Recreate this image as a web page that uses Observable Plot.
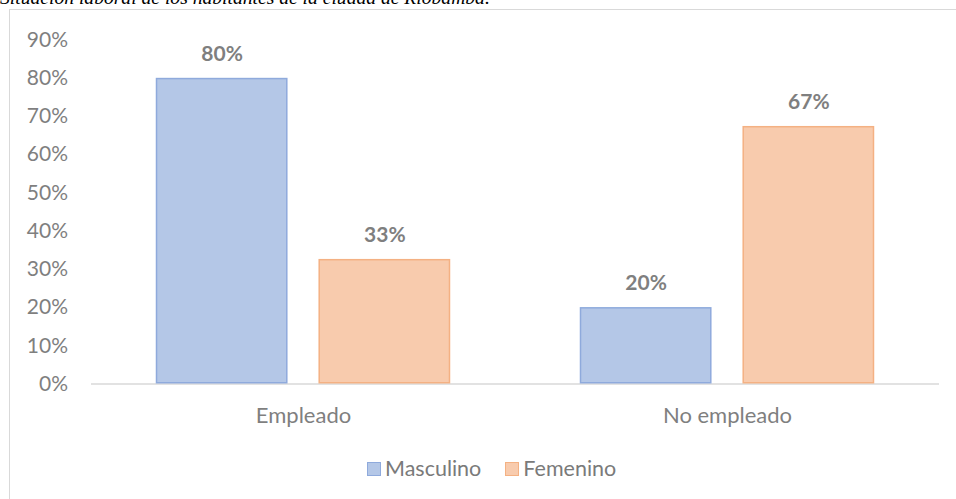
<!DOCTYPE html>
<html>
<head>
<meta charset="utf-8">
<script src="https://cdn.jsdelivr.net/npm/d3@7"></script>
<script src="https://cdn.jsdelivr.net/npm/@observablehq/plot@0.6"></script>
<style>
  html, body { margin: 0; padding: 0; background: #fff; overflow: hidden; width: 956px; height: 499px; }
  #title { position: absolute; left: 0; top: -12px; font: italic 19.6px/20px "Liberation Serif", "Times New Roman", serif; color: #000; white-space: nowrap; }
  #frame { position: absolute; left: 8.5px; top: 9px; width: 960px; height: 520px; border: 1px solid #d9d9d9; box-sizing: border-box; }
  #chart { position: absolute; left: 0; top: 0; }
  #legend { position: absolute; left: 367px; top: 458px; display: flex; align-items: center; font: 21.5px/21px Lato, sans-serif; color: #7a7a7a; }
  .item { display: flex; align-items: center; margin-right: 24px; }
  .sw { width: 12px; height: 12px; border: 1px solid; margin-right: 4px; }
</style>
</head>
<body>
<div id="title">Situación laboral de los habitantes de la ciudad de Riobamba.</div>
<div id="frame"></div>
<div id="chart"></div>
<div id="legend"></div>
<script>
const categorias = ["Empleado", "No empleado"];
const series = ["Masculino", "Femenino"];
const masculino = [0.80, 0.20];
const femenino = [0.326, 0.674];
const yTicks = [0, 0.1, 0.2, 0.3, 0.4, 0.5, 0.6, 0.7, 0.8, 0.9];
const rellenos = ["#b4c7e7", "#f8cbad"];
const bordes = ["#8faadc", "#f4b183"];

const valores = [masculino, femenino];
const data = [];
categorias.forEach((c, i) => {
  series.forEach((s, j) => data.push({cat: c, sexo: s, value: valores[j][i]}));
});
const pct = d => Math.round(d * 100) + "%";

const chart = Plot.plot({
  width: 956,
  height: 440,
  marginTop: 39.6,
  marginBottom: 56.5,
  marginLeft: 90,
  marginRight: 17,
  style: {fontFamily: "Lato, sans-serif", fontSize: "20px", color: "#7f7f7f", background: "transparent"},
  fx: {domain: categorias, padding: 0, label: null, axis: null},
  x: {domain: series, paddingInner: 0.19, paddingOuter: 0.398, round: false, axis: null},
  y: {domain: [0, 0.9], axis: null},
  color: {domain: series, range: rellenos},
  marks: [
    Plot.axisY({ticks: yTicks, tickFormat: pct, tickSize: 0, tickPadding: 23.5, fontSize: 21, fill: "#7f7f7f", label: null}),
    Plot.axisFx({anchor: "bottom", tickSize: 0, tickPadding: 23.5, fontSize: 22, fill: "#7f7f7f", label: null}),
    Plot.ruleY([0], {stroke: "#d9d9d9", strokeWidth: 1.5}),
    Plot.barY(data, {fx: "cat", x: "sexo", y: "value", fill: "sexo",
      stroke: d => bordes[series.indexOf(d.sexo)], strokeWidth: 1.5, inset: 0.75}),
    Plot.text(data, {fx: "cat", x: "sexo", y: "value", text: d => pct(d.value), dy: -24,
      fontWeight: "bold", fontSize: 21, fill: "#7f7f7f"})
  ]
});
document.getElementById("chart").appendChild(chart);

const legend = document.getElementById("legend");
series.forEach((s, j) => {
  const it = document.createElement("div");
  it.className = "item";
  const sw = document.createElement("div");
  sw.className = "sw";
  sw.style.background = rellenos[j];
  sw.style.borderColor = bordes[j];
  const t = document.createElement("span");
  t.textContent = s;
  it.appendChild(sw); it.appendChild(t);
  legend.appendChild(it);
});
</script>
</body>
</html>
